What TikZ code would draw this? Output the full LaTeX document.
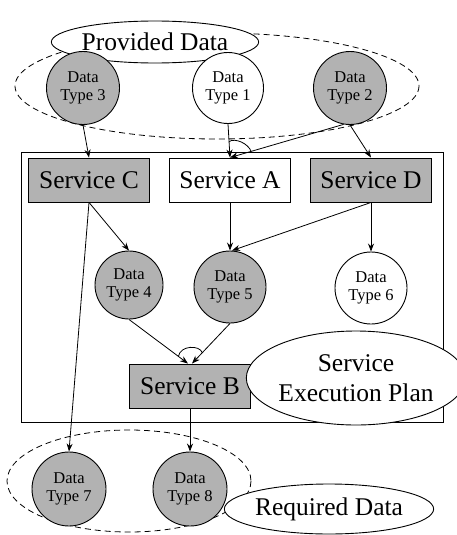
\documentclass[tikz,border=0pt]{standalone}
\usepackage{fontspec}
\setmainfont{Liberation Serif}
\usetikzlibrary{shapes.geometric,arrows.meta,calc}
\definecolor{fillgray}{RGB}{178,178,178}
\begin{document}
\begin{tikzpicture}[x=1pt,y=-1pt,
  bigfont/.style={font=\fontsize{25.5}{30}\selectfont},
  svc/.style={draw, line width=0.9pt, minimum width=121pt, minimum height=44pt, inner sep=0pt, bigfont},
  svcg/.style={svc, fill=fillgray},
  svcw/.style={svc, fill=white},
  dtype/.style={circle, draw, line width=0.9pt, inner sep=0pt, minimum size=73pt, align=center, font=\fontsize{16.5}{17.5}\selectfont},
  dtg/.style={dtype, fill=fillgray},
  dtw/.style={dtype, fill=white},
  lbl/.style={ellipse, draw, fill=white, line width=0.9pt, inner sep=0pt, align=center, bigfont},
  grp/.style={draw, dashed, line width=0.8pt, dash pattern=on 6pt off 4pt},
  conn/.style={draw, line width=0.8pt, -{Stealth[length=8pt,width=6pt]}},
  andarc/.style={draw, line width=0.8pt}
]
\useasboundingbox (0,0) rectangle (457,535);

% groups of data types
\draw[grp] (217,86) ellipse [x radius=202, y radius=53];
\draw[grp] (129,481) ellipse [x radius=122, y radius=51];

% execution plan frame
\draw[line width=0.9pt] (21,152) rectangle (443,422);

% provided data
\node[lbl, minimum width=206pt, minimum height=42pt] (provided) at (155,42) {Provided Data};
\node[dtg] (dt3) at (83,88) {Data\\Type 3};
\node[dtw, minimum size=71pt] (dt1) at (228,88) {Data\\Type 1};
\node[dtg] (dt2) at (350,88) {Data\\Type 2};

% services
\node[svcg] (sc) at (89,180) {Service C};
\node[svcw] (sa) at (230,180) {Service A};
\node[svcg] (sd) at (371,180) {Service D};

% intermediate data types
\node[dtg, minimum size=68pt] (dt4) at (129,285) {Data\\Type 4};
\node[dtg, minimum size=72pt] (dt5) at (230,287) {Data\\Type 5};
\node[dtw, minimum size=72pt] (dt6) at (371,288) {Data\\Type 6};

\node[svcg] (sb) at (190,386) {Service B};
\node[lbl, minimum width=201pt, minimum height=94pt] (plan) at (356,378) {Service\\Execution Plan};

% required data
\node[dtg, minimum size=74pt] (dt7) at (69,489) {Data\\Type 7};
\node[dtg, minimum size=74pt] (dt8) at (190,489) {Data\\Type 8};
\node[lbl, minimum width=207pt, minimum height=50pt] (required) at (329,509) {Required Data};

% connectors
\draw[conn] (dt3.south) -- (sc.north);
\draw[conn] (dt1.south) -- (sa.north);
\draw[conn] (dt2.-100) -- (sa.north);
\draw[conn] (dt2.south) -- (sd.north);

\draw[conn] (sc.south) -- (dt4.north);
\draw[conn] (sc.south) -- (dt7.north);
\draw[conn] (sa.south) -- (dt5.north);
\draw[conn] (sd.south) -- ([xshift=2pt]dt5.north);
\draw[conn] (sd.south) -- (dt6.north);

\coordinate (sbl) at ([xshift=-2pt]sb.north);
\coordinate (sbr) at ([xshift=2pt]sb.north);
\draw[conn] (dt4.south) -- (sbl);
\draw[conn] (dt5.south) -- (sbr);
\draw[conn] (sb.south) -- (dt8.north);

% AND-join arcs
\coordinate (ja1) at ($(sa.north)!16pt!(dt1.south)$);
\coordinate (ja2) at ($(sa.north)!22pt!(dt2.-100)$);
\draw[andarc] (ja1) .. controls +(6,-4) and +(-3,-8) .. (ja2);

\coordinate (jb1) at ($(sbl)!12pt!(dt4.south)$);
\coordinate (jb2) at ($(sbr)!15pt!(dt5.south)$);
\draw[andarc] (jb1) .. controls +(2,-11) and +(-3,-8) .. (jb2);
\end{tikzpicture}
\end{document}
